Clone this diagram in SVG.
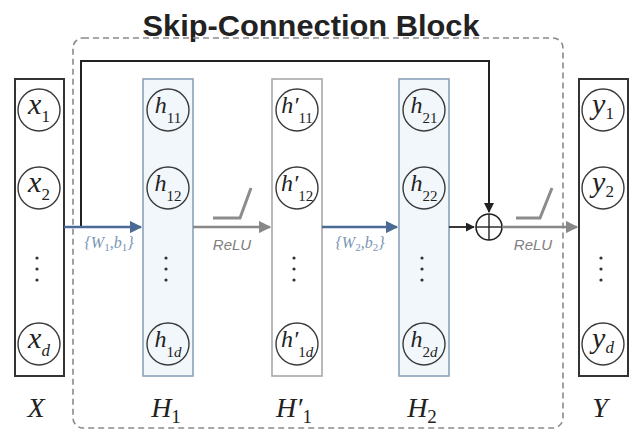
<svg xmlns="http://www.w3.org/2000/svg" width="630" height="432" viewBox="0 0 630 432">
<defs>
<style>
.io{fill:#ffffff;stroke:#333333;stroke-width:2}
.hb{fill:#f2f7fc;stroke:#8aa2b8;stroke-width:1.6}
.hp{fill:#ffffff;stroke:#a8a8a8;stroke-width:1.6}
.nd{fill:none;stroke:#3a3a3a;stroke-width:1.4}
.m{font-family:"Liberation Serif","DejaVu Serif",serif;font-style:italic;font-size:24px;fill:#222222}
.mx{font-family:"Liberation Serif","DejaVu Serif",serif;font-style:italic;font-size:30px;fill:#222222}
.lbl{font-family:"Liberation Serif","DejaVu Serif",serif;font-style:italic;font-size:28px;fill:#222222}
.s{font-style:normal}
.dot{fill:#333333}
.relu{font-family:"Liberation Sans","DejaVu Sans",sans-serif;font-style:italic;font-size:15px;fill:#808080}
.wb{font-family:"Liberation Serif","DejaVu Serif",serif;font-style:italic;font-size:16px;fill:#7a95b5}
.sym{fill:none;stroke:#8c8c8c;stroke-width:3}
</style>
<marker id="ab" viewBox="0 0 10 10" refX="9" refY="5" markerWidth="5" markerHeight="5" orient="auto"><path d="M0,0 L10,5 L0,10 z" fill="#4a6b96"/></marker>
<marker id="ag" viewBox="0 0 10 10" refX="9" refY="5" markerWidth="5" markerHeight="5" orient="auto"><path d="M0,0 L10,5 L0,10 z" fill="#888888"/></marker>
<marker id="ak" viewBox="0 0 10 10" refX="9" refY="5" markerWidth="5" markerHeight="5" orient="auto"><path d="M0,0 L10,5 L0,10 z" fill="#222222"/></marker>
</defs>
<rect width="630" height="432" fill="#ffffff"/>
<text x="311" y="36" text-anchor="middle" font-family="Liberation Sans, Arial, sans-serif" font-weight="bold" font-size="30" fill="#222222" textLength="337" lengthAdjust="spacingAndGlyphs">Skip-Connection Block</text>
<g id="block">
<rect x="73" y="38" width="490" height="390" rx="10" fill="none" stroke="#8a8a8a" stroke-width="1.6" stroke-dasharray="6,4"/>
</g>
<g id="X">
<rect class="io" x="15" y="79" width="49" height="297"/>
<circle class="nd" cx="39" cy="110" r="21"/>
<text class="mx" x="39" y="114" text-anchor="middle">x<tspan class="s" font-size="17" dy="8">1</tspan></text>
<circle class="nd" cx="39" cy="188" r="21"/>
<text class="mx" x="39" y="192" text-anchor="middle">x<tspan class="s" font-size="17" dy="8">2</tspan></text>
<circle class="dot" cx="37" cy="258" r="1.6"/><circle class="dot" cx="37" cy="269" r="1.6"/><circle class="dot" cx="37" cy="280" r="1.6"/>
<circle class="nd" cx="39" cy="344" r="21"/>
<text class="mx" x="39" y="348" text-anchor="middle">x<tspan font-size="17" dy="8">d</tspan></text>
<text class="lbl" x="36" y="417" text-anchor="middle">X</text>
</g>
<g id="H1">
<rect class="hb" x="143" y="79" width="50" height="297"/>
<circle class="nd" cx="168" cy="110" r="21"/>
<text class="m" x="168" y="113" text-anchor="middle">h<tspan class="s" font-size="15" dy="10">11</tspan></text>
<circle class="nd" cx="168" cy="188" r="21"/>
<text class="m" x="168" y="191" text-anchor="middle">h<tspan class="s" font-size="15" dy="10">12</tspan></text>
<circle class="dot" cx="166" cy="258" r="1.6"/><circle class="dot" cx="166" cy="269" r="1.6"/><circle class="dot" cx="166" cy="280" r="1.6"/>
<circle class="nd" cx="168" cy="344" r="21"/>
<text class="m" x="168" y="347" text-anchor="middle">h<tspan class="s" font-size="15" dy="10">1</tspan><tspan font-size="15">d</tspan></text>
<text class="lbl" x="166" y="417" text-anchor="middle">H<tspan class="s" font-size="19" dy="6">1</tspan></text>
</g>
<g id="Hp1">
<rect class="hp" x="272" y="79" width="50" height="297"/>
<circle class="nd" cx="297" cy="110" r="21" stroke="#666"/>
<text class="m" x="297" y="113" text-anchor="middle">h′<tspan class="s" font-size="15" dy="10">11</tspan></text>
<circle class="nd" cx="297" cy="188" r="21" stroke="#666"/>
<text class="m" x="297" y="191" text-anchor="middle">h′<tspan class="s" font-size="15" dy="10">12</tspan></text>
<circle class="dot" cx="294" cy="258" r="1.6"/><circle class="dot" cx="294" cy="269" r="1.6"/><circle class="dot" cx="294" cy="280" r="1.6"/>
<circle class="nd" cx="297" cy="344" r="21" stroke="#666"/>
<text class="m" x="297" y="347" text-anchor="middle">h′<tspan class="s" font-size="15" dy="10">1</tspan><tspan font-size="15">d</tspan></text>
<text class="lbl" x="294" y="417" text-anchor="middle">H′<tspan class="s" font-size="19" dy="6">1</tspan></text>
</g>
<g id="H2">
<rect class="hb" x="399" y="79" width="50" height="297"/>
<circle class="nd" cx="424" cy="110" r="21"/>
<text class="m" x="424" y="113" text-anchor="middle">h<tspan class="s" font-size="15" dy="10">21</tspan></text>
<circle class="nd" cx="424" cy="188" r="21"/>
<text class="m" x="424" y="191" text-anchor="middle">h<tspan class="s" font-size="15" dy="10">22</tspan></text>
<circle class="dot" cx="422" cy="258" r="1.6"/><circle class="dot" cx="422" cy="269" r="1.6"/><circle class="dot" cx="422" cy="280" r="1.6"/>
<circle class="nd" cx="424" cy="344" r="21"/>
<text class="m" x="424" y="347" text-anchor="middle">h<tspan class="s" font-size="15" dy="10">2</tspan><tspan font-size="15">d</tspan></text>
<text class="lbl" x="422" y="417" text-anchor="middle">H<tspan class="s" font-size="19" dy="6">2</tspan></text>
</g>
<g id="Y">
<rect class="io" x="579" y="79" width="49" height="297"/>
<circle class="nd" cx="603" cy="110" r="21"/>
<text class="mx" x="603" y="114" text-anchor="middle">y<tspan class="s" font-size="17" dy="5">1</tspan></text>
<circle class="nd" cx="603" cy="188" r="21"/>
<text class="mx" x="603" y="192" text-anchor="middle">y<tspan class="s" font-size="17" dy="5">2</tspan></text>
<circle class="dot" cx="601" cy="258" r="1.6"/><circle class="dot" cx="601" cy="269" r="1.6"/><circle class="dot" cx="601" cy="280" r="1.6"/>
<circle class="nd" cx="603" cy="344" r="21"/>
<text class="mx" x="603" y="348" text-anchor="middle">y<tspan font-size="17" dy="5">d</tspan></text>
<text class="lbl" x="600" y="417" text-anchor="middle">Y</text>
</g>
<g id="sum">
<circle cx="489" cy="227" r="13" fill="#ffffff" stroke="#222222" stroke-width="1.6"/>
<line x1="476" y1="227" x2="502" y2="227" stroke="#222222" stroke-width="1.4"/>
<line x1="489" y1="214" x2="489" y2="240" stroke="#222222" stroke-width="1.4"/>
</g>
<g id="connectors">
<polyline points="81,227 81,61 489,61 489,212" fill="none" stroke="#222222" stroke-width="2" marker-end="url(#ak)"/>
<line x1="64" y1="227" x2="141" y2="227" stroke="#4a6b96" stroke-width="2.5" marker-end="url(#ab)"/>
<line x1="193" y1="227" x2="270" y2="227" stroke="#888888" stroke-width="2.5" marker-end="url(#ag)"/>
<line x1="322" y1="227" x2="397" y2="227" stroke="#4a6b96" stroke-width="2.5" marker-end="url(#ab)"/>
<line x1="449" y1="227" x2="474" y2="227" stroke="#222222" stroke-width="1.8" marker-end="url(#ak)"/>
<line x1="502" y1="227" x2="577" y2="227" stroke="#888888" stroke-width="2.5" marker-end="url(#ag)"/>
<polyline class="sym" points="213,218 240,218 251,188"/>
<polyline class="sym" points="516,218 540,218 552,188"/>
<text class="wb" x="109" y="248" text-anchor="middle">{W<tspan class="s" font-size="11" dy="3">1</tspan><tspan dy="-3">,b</tspan><tspan class="s" font-size="11" dy="3">1</tspan><tspan dy="-3">}</tspan></text>
<text class="wb" x="360" y="248" text-anchor="middle">{W<tspan class="s" font-size="11" dy="3">2</tspan><tspan dy="-3">,b</tspan><tspan class="s" font-size="11" dy="3">2</tspan><tspan dy="-3">}</tspan></text>
<text class="relu" x="232" y="250" text-anchor="middle">ReLU</text>
<text class="relu" x="533" y="250" text-anchor="middle">ReLU</text>
</g>
</svg>
